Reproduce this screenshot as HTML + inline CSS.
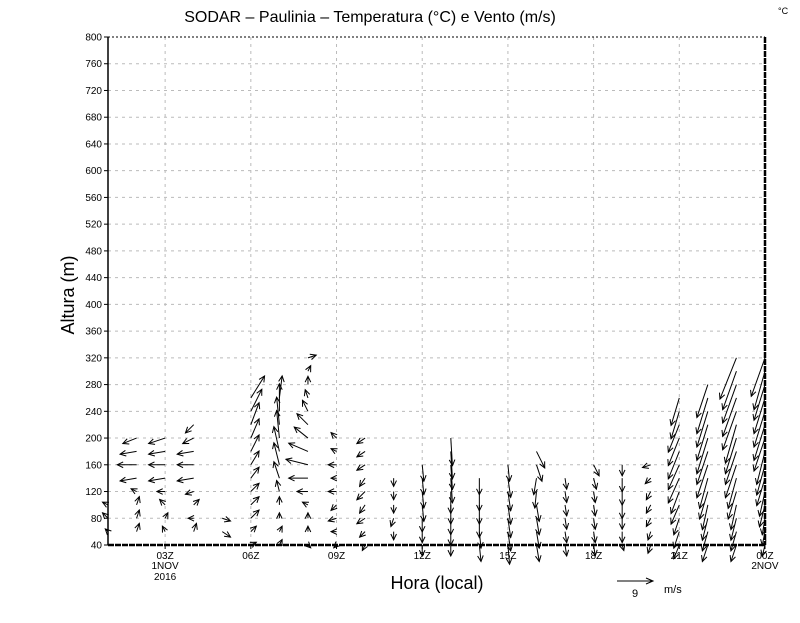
<!DOCTYPE html>
<html><head><meta charset="utf-8"><style>
body{margin:0;background:#fff}
svg text{font-family:"Liberation Sans",sans-serif;fill:#000}
</style></head><body>
<svg id="c" width="800" height="618" viewBox="0 0 800 618" xmlns="http://www.w3.org/2000/svg">
<rect width="800" height="618" fill="#fff"/>
<text x="370" y="22" font-size="16" text-anchor="middle">SODAR – Paulinia – Temperatura (°C) e Vento (m/s)</text>
<text x="778" y="14" font-size="9">°C</text>
<text transform="translate(74,295) rotate(-90)" font-size="18" text-anchor="middle">Altura (m)</text>
<text x="437" y="589" font-size="18" text-anchor="middle">Hora (local)</text>
<g id="grid"></g><g id="axes"></g><g id="vec"></g>
<g>
<line x1="617" y1="581" x2="653" y2="581" stroke="#000"/>
<polyline points="646,578 653,581 646,584" fill="none" stroke="#000"/>
<text x="635" y="597" font-size="11" text-anchor="middle">9</text>
<text x="664" y="593" font-size="11">m/s</text>
</g>
</svg>
<script>
const yTicks=[40,80,120,160,200,240,280,320,360,400,440,480,520,560,600,640,680,720,760,800];
const xTickHours=[3,6,9,12,15,18,21,24];
const xTickLabels=["03Z","06Z","09Z","12Z","15Z","18Z","21Z","00Z"];
const colHours=[1,2,3,4,5,6,7,8,9,10,11,12,13,14,15,16,17,18,19,20,21,22,23,24];
const colStart=[60,60,60,60,60,40,40,40,40,40,60,40,40,40,40,40,40,40,40,40,40,40,40,40];
const colU=[
[-0.5,-1,-1],
[0.5,0.5,0.5,-1,-3,-3.5,-3,-2.5],
[-0.5,0.5,-1,-1.5,-3,-3,-3,-3],
[0.5,-1,1,-1.5,-3,-3,-3,-2,-1.5],
[1.5,1.5],
[1,1,1.5,1.5,1.5,1.5,1.5,1.5,1.5,1.5,2,2.5],
[0.5,0.5,0,0,-0.5,-1,-1,-1,-0.5,-0.5,0,0.5],
[0.5,0,0,-1,-2,-3.5,-4,-3.5,-2.5,-2,-1,-0.5,0,0.5,1.5],
[-0.5,-1,-1.5,-1,-1.5,-1,-1.5,-1,-1],
[-0.5,-1,-1.5,-1,-1.5,-1,-1.5,-1.5,-1.5],
[0,-0.5,0,0,0],
[0,0,0,0.3,0.3,0.3,0.3],
[0,0,0,0,0,0.3,0.3,0.3,0.3],
[0.3,0.3,0,0,0,0],
[0.3,0.5,0.5,0.5,0.5,0.5,0.3],
[0.5,0.5,0.5,0.5,-0.3,-0.5,1,1.5],
[0.3,0.3,0.3,0.3,0.3,0.3],
[0.3,0.3,0.3,0.3,0.3,0.5,1],
[0.3,0,0,0,0,0,0],
[-0.5,-0.5,-0.8,-0.8,-0.8,-1,-1.5],
[-1,-1,-1,-1.5,-1.5,-2,-2,-2,-2,-2,-1.5,-1.5],
[-1,-1,-1,-1,-1.5,-1.5,-2,-2,-2,-2,-2,-2,-2],
[-1,-1,-1,-1,-1.5,-1.5,-2,-2,-2,-2,-2.5,-2.5,-2.5,-2.5,-3],
[-0.5,-0.5,-0.5,-1,-1,-1.5,-1.5,-1.5,-2,-2,-2,-2,-2,-2,-2.5]];
const colV=[
[0.5,1,0.5],
[1.5,1.5,1.5,0.5,-0.5,0,-0.5,-1],
[1,1,1,0,-0.5,0,-0.5,-1],
[1.5,0,1,-0.5,-0.5,0,-0.5,-1,-1.5],
[-1,-0.5],
[0.5,1,1.5,1.5,1.5,2,2.5,3,3.5,4,4,4],
[1,1,1,1.5,2,3,4,4.5,5,5,5,4],
[-0.5,1,1,0.5,0,0,1,1.5,2,2,2,1.5,1.5,1,0.5],
[-0.5,0,-0.5,-1,0,0,0,0.5,1],
[-1,-1,-1,-1.5,-1.5,-1.5,-1,-1,-1],
[-1.5,-1.5,-1.5,-1.5,-1.5],
[-2,-2,-2.5,-3,-3,-3,-3],
[-2,-2.5,-3,-3.5,-4,-4.5,-4.5,-5,-5],
[-3,-3,-3.5,-3.5,-3.5,-3],
[-3.5,-3.5,-3.5,-3.5,-3.5,-3.5,-3],
[-3,-3,-3,-3,-3,-3,-3,-3],
[-2,-2,-2,-2,-2,-2],
[-2,-2,-2,-2,-2,-2,-2],
[-1,-2,-2,-2.5,-2.5,-2.5,-2],
[-1.5,-1.5,-1.5,-1.5,-1.5,-1,-0.5],
[-2.5,-3,-3,-3.5,-4,-4.5,-4.5,-5,-5,-5,-5,-5],
[-3,-3.5,-4,-4.5,-5,-5.5,-6,-6,-6.5,-6.5,-6.5,-6.5,-6],
[-3,-3.5,-4,-4.5,-5,-5.5,-6,-6,-6.5,-7,-7,-7,-7,-7,-7.5],
[-2,-2.5,-3,-4,-4.5,-5,-5.5,-6,-6,-6.5,-6.5,-6.5,-6.5,-7,-7]];
const NS="http://www.w3.org/2000/svg";
const X0=108,X1=765,Y0=545,Y1=37;
function xs(h){return X0+(h-1)*(X1-X0)/23;}
function ys(m){return Y0-(m-40)*(Y0-Y1)/760;}
const PX=5.5; // px per m/s
function mk(tag,at,parent){const e=document.createElementNS(NS,tag);for(const k in at)e.setAttribute(k,at[k]);parent.appendChild(e);return e;}
const grid=document.getElementById('grid'),axes=document.getElementById('axes'),vec=document.getElementById('vec');
yTicks.forEach(t=>{
 const y=ys(t);
 if(t>40&&t<800){const l=mk('line',{x1:X0,x2:X1,y1:y,y2:y,stroke:'#bbb','stroke-dasharray':'3,4'},grid);
 
 }
 const tk=mk('line',{x1:X0-4,x2:X0,y1:y,y2:y,stroke:'#000'},axes);
 
 
 const tx=mk('text',{x:X0-6,y:y+3.5,'font-size':'10','text-anchor':'end'},axes);tx.textContent=t;
 
 
});
xTickHours.forEach((h,i)=>{
 const x=xs(h);
 if(h<24){const l=mk('line',{x1:x,x2:x,y1:Y1,y2:Y0,stroke:'#bbb','stroke-dasharray':'3,4'},grid);
 
 }
 const tk=mk('line',{x1:x,x2:x,y1:Y0,y2:Y0+4,stroke:'#000'},axes);
 
 
 const tx=mk('text',{x:x,y:Y0+14,'font-size':'10','text-anchor':'middle'},axes);tx.textContent=xTickLabels[i];
 
 
});
[[3,"1NOV",24],[3,"2016",35],[24,"2NOV",24]].forEach(d=>{
 const tx=mk('text',{x:xs(d[0]),y:Y0+d[2],'font-size':'10','text-anchor':'middle'},axes);tx.textContent=d[1];
 
 
});
const fr=[[X0,Y1,X1,Y1,1,'2,2'],[X0,Y1,X0,Y0,1.5,''],[X0,Y0,X1,Y0,2.5,'6,1'],[X1,Y1,X1,Y0,2.5,'6,1']];
fr.forEach(f=>{const l=mk('line',{x1:f[0],y1:f[1],x2:f[2],y2:f[3],stroke:'#000','stroke-width':f[4]},axes);if(f[5])l.setAttribute('stroke-dasharray',f[5]);
 
 });
colHours.forEach((h,ci)=>{
 const x=xs(h);
 colU[ci].forEach((u,li)=>{
  const v=colV[ci][li];const lev=colStart[ci]+li*20;const y=ys(lev);
  const dx=u*PX,dy=-v*PX;const L=Math.hypot(dx,dy);if(L<0.5)return;
  const x1=x,y1=y,x2=x+dx,y2=y+dy;
  const ang=Math.atan2(dy,dx),hl=6.5,ha=0.45;
  const g=mk('g',{stroke:'#000','stroke-width':'1',fill:'none'},vec);
  
  
  mk('line',{x1:x1,y1:y1,x2:x2,y2:y2},g);
  mk('polyline',{points:`${x2-hl*Math.cos(ang-ha)},${y2-hl*Math.sin(ang-ha)} ${x2},${y2} ${x2-hl*Math.cos(ang+ha)},${y2-hl*Math.sin(ang+ha)}`},g);
 });
});
</script>
</body></html>
